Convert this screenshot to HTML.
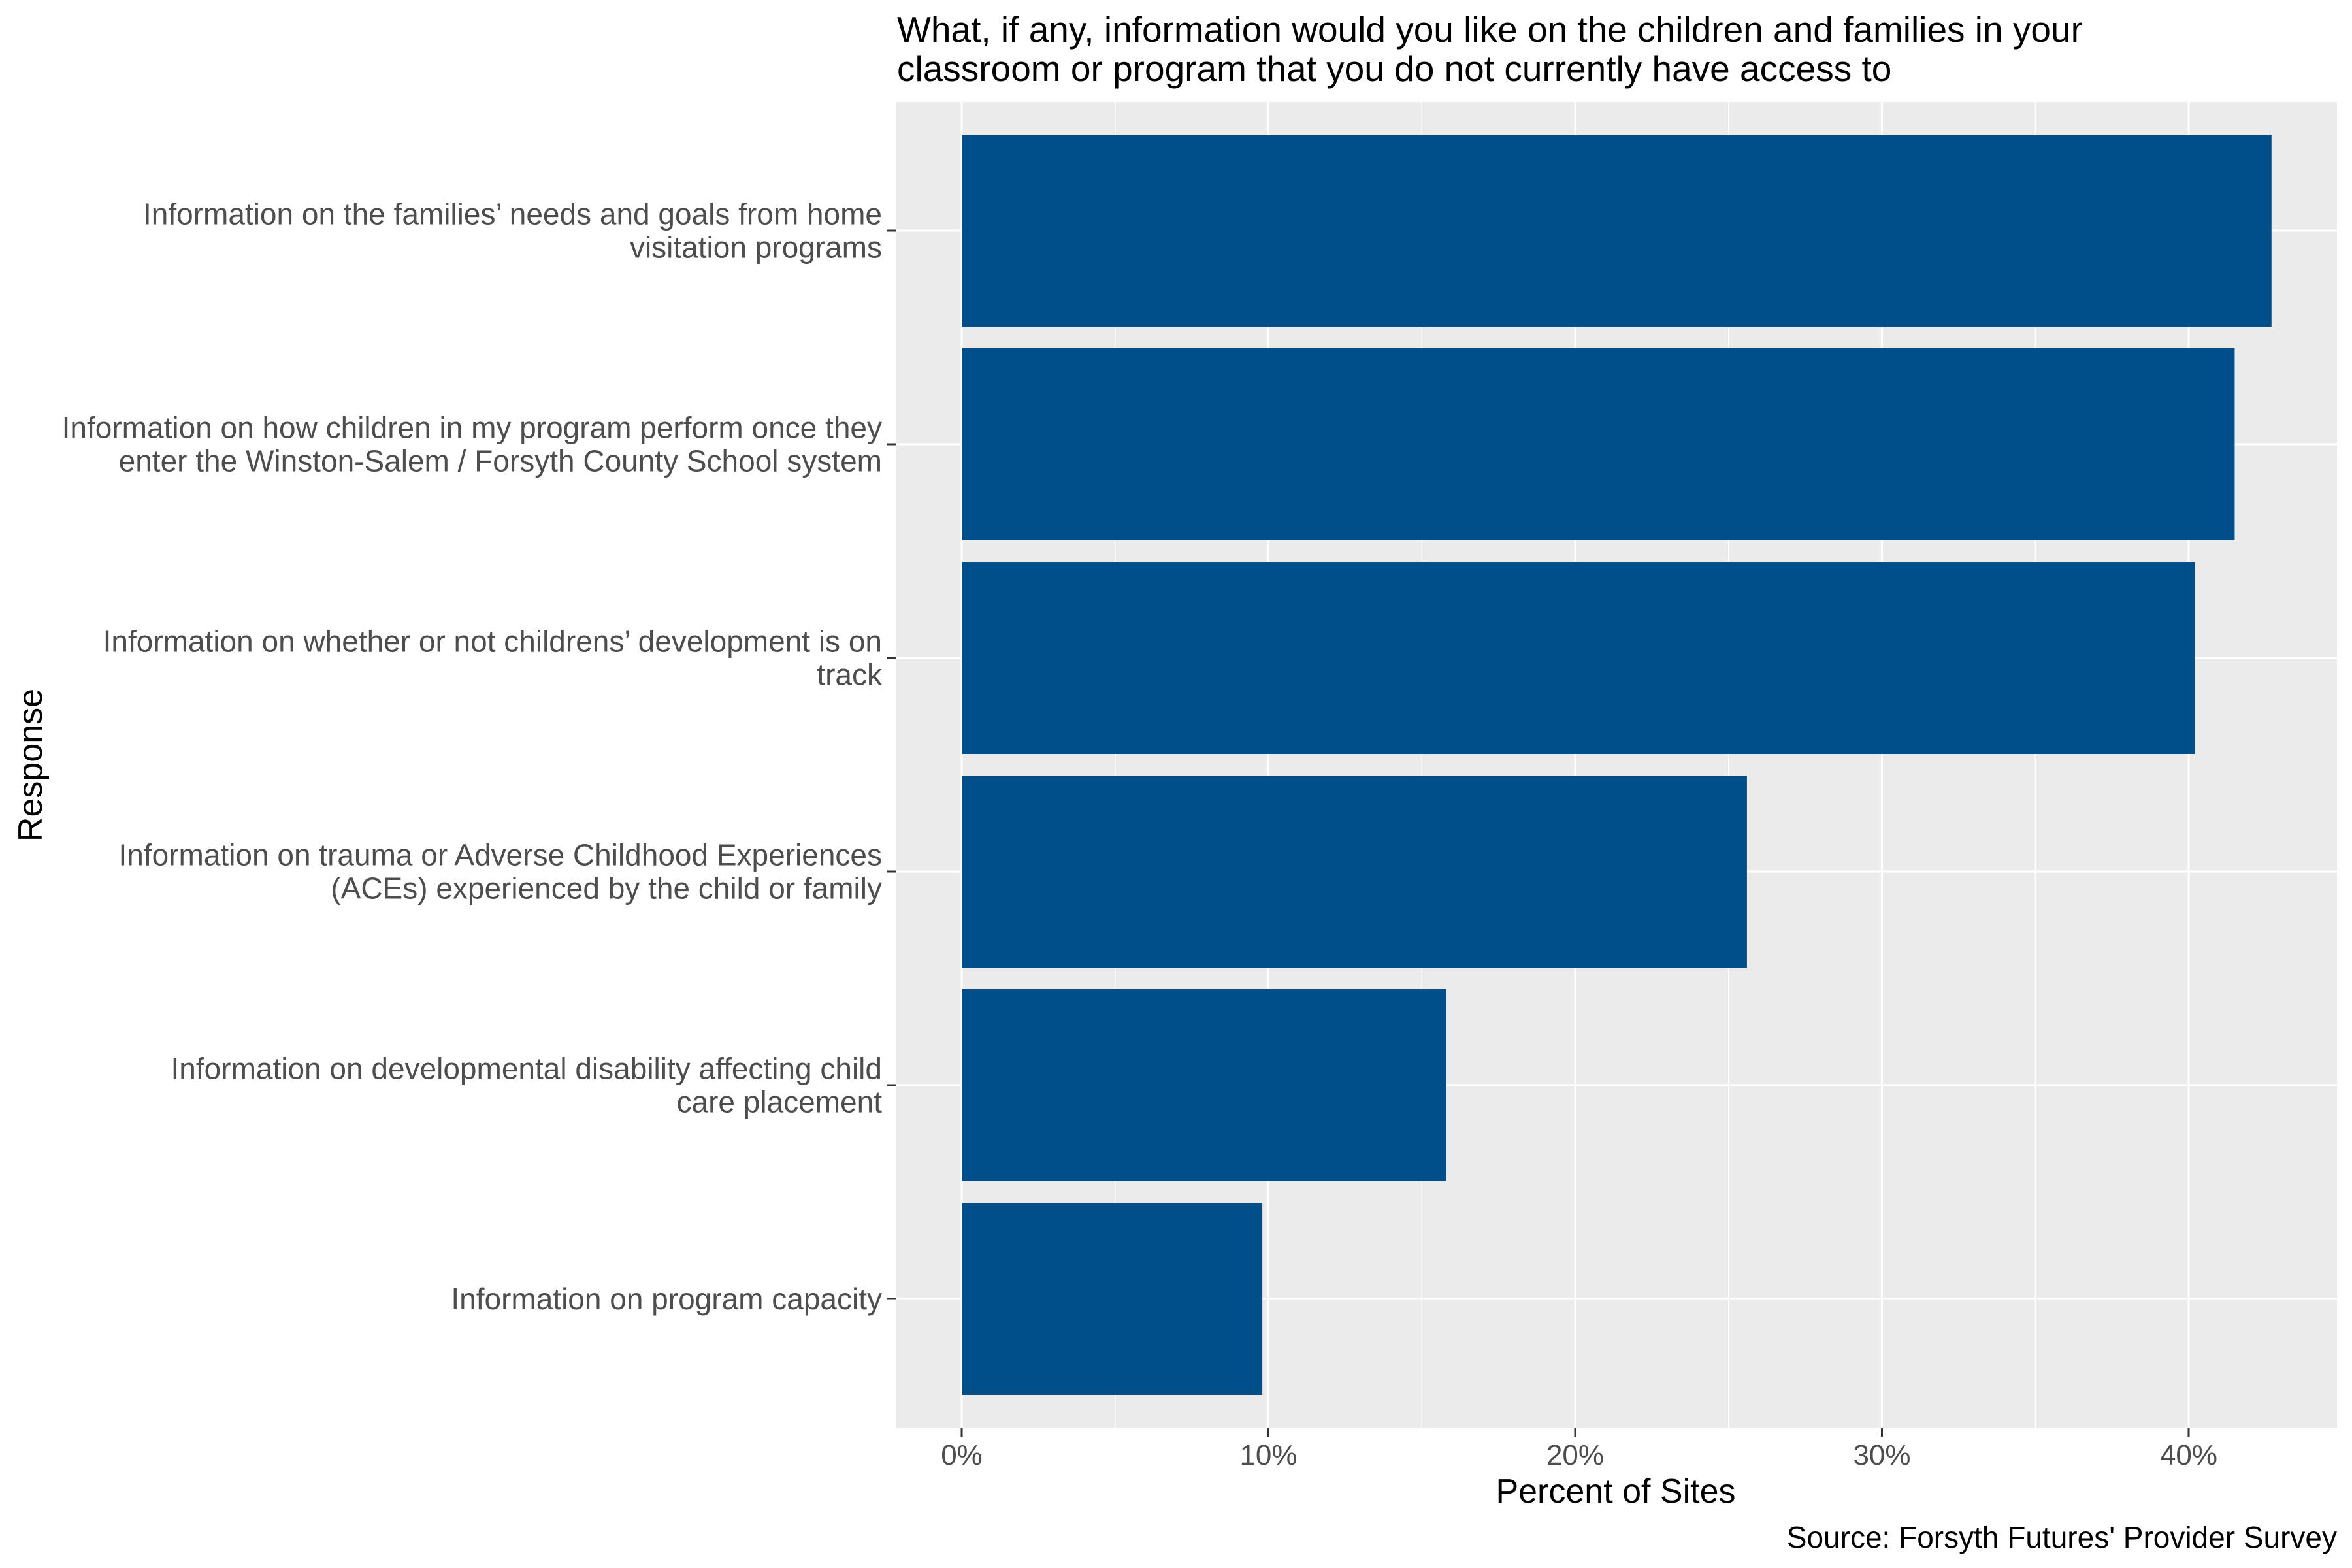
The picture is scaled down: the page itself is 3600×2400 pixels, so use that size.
<!DOCTYPE html>
<html><head><meta charset="utf-8"><style>
html,body{margin:0;padding:0;background:#fff;}
svg{display:block;font-family:"Liberation Sans",Arial,sans-serif;}
</style></head><body>
<svg id="chart" width="3600" height="2400" viewBox="0 0 3600 2400">
<text x="1373" y="64" font-size="55" fill="#000">What, if any, information would you like on the children and families in your</text>
<text x="1373" y="124" font-size="55" fill="#000">classroom or program that you do not currently have access to</text>
<rect x="1371" y="156" width="2206" height="2030" fill="#EBEBEB"/>
<g id="grid"></g>
<g id="bars"></g>
<g id="yticks"></g>
<g id="xticks"></g>
<text x="2473" y="2300" font-size="52" text-anchor="middle" fill="#000">Percent of Sites</text>
<text transform="translate(64,1171) rotate(-90)" font-size="52" text-anchor="middle" fill="#000">Response</text>
<text x="3577" y="2369" font-size="46" text-anchor="end" fill="#000">Source: Forsyth Futures' Provider Survey</text>
</svg>
<script>
const categories = [
  ["Information on the families’ needs and goals from home","visitation programs"],
  ["Information on how children in my program perform once they","enter the Winston-Salem / Forsyth County School system"],
  ["Information on whether or not childrens’ development is on","track"],
  ["Information on trauma or Adverse Childhood Experiences","(ACEs) experienced by the child or family"],
  ["Information on developmental disability affecting child","care placement"],
  ["Information on program capacity"]
];
const values = [42.7, 41.5, 40.2, 25.6, 15.8, 9.8];
const xTicks = [0, 10, 20, 30, 40];
const xTickLabels = ["0%", "10%", "20%", "30%", "40%"];

const NS = "http://www.w3.org/2000/svg";
const x0 = 1472, pxPer = 46.95;
const xs = v => x0 + v * pxPer;
const top0 = 353, step = 327, barH = 294;
const ys = i => top0 + i * step;
function mk(tag, attrs, parent){const e=document.createElementNS(NS,tag);for(const k in attrs)e.setAttribute(k,attrs[k]);parent.appendChild(e);return e;}
const grid=document.getElementById('grid'), bars=document.getElementById('bars'), yt=document.getElementById('yticks'), xt=document.getElementById('xticks');
for(let i=0;i<xTicks.length;i++){
  const mx=xs(xTicks[i]+5);
  if(mx<3577){const l=mk('line',{x1:mx,x2:mx,y1:156,y2:2186,stroke:'#fff','stroke-width':1.5},grid);
  
  }
}
xTicks.forEach((t,i)=>{
  const l=mk('line',{x1:xs(t),x2:xs(t),y1:156,y2:2186,stroke:'#fff','stroke-width':3},grid);
  
  
  const tk=mk('line',{x1:xs(t),x2:xs(t),y1:2186,y2:2199,stroke:'#333','stroke-width':3},xt);
  
  
  const tx=mk('text',{x:xs(t),y:2242,'font-size':44,'text-anchor':'middle',fill:'#4D4D4D'},xt);
  tx.textContent=xTickLabels[i];
  
  
});
categories.forEach((c,i)=>{
  const cy=ys(i);
  const g=mk('line',{x1:1371,x2:3577,y1:cy,y2:cy,stroke:'#fff','stroke-width':3},grid);
  
  
  const r=mk('rect',{x:xs(0),y:cy-barH/2,width:xs(values[i])-xs(0),height:barH,fill:'#004F8A'},bars);
  
  
  const tk=mk('line',{x1:1358,x2:1371,y1:cy,y2:cy,stroke:'#333','stroke-width':3},yt);
  
  
  const n=c.length, lh=51;
  c.forEach((line,j)=>{
    const y=cy-(n-1)*lh/2+j*lh+16;
    const t=mk('text',{x:1350,y:y,'font-size':46,'text-anchor':'end',fill:'#4D4D4D'},yt);
    t.textContent=line;
    
    
  });
});
</script>
</body></html>
